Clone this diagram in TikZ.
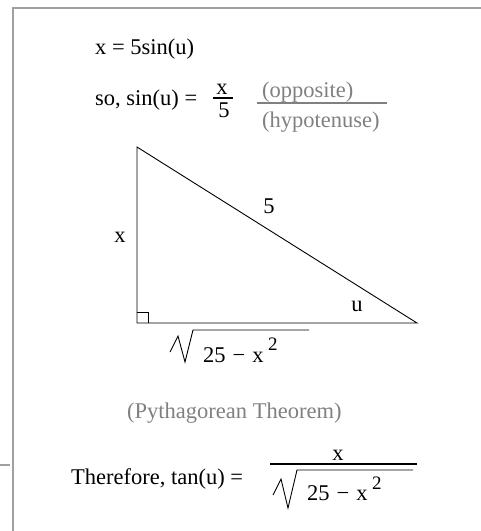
\documentclass[tikz,border=0pt]{standalone}
\usepackage{fontspec}
\setmainfont{Liberation Serif}
\definecolor{notegrey}{RGB}{128,128,128}
\definecolor{framegrey}{RGB}{160,160,160}
\begin{document}
\begin{tikzpicture}[x=1pt,y=-1pt,
		txt/.style={font=\fontsize{22.5}{27}\selectfont,inner sep=0pt,anchor=base west},
		note/.style={txt,text=notegrey},
		frac/.style={txt,anchor=base},
		side/.style={txt,anchor=center},
		expo/.style={font=\fontsize{19}{22}\selectfont,inner sep=0pt,anchor=base west},
		bar/.style={line width=1.1pt},
		radical/.style={line width=0.9pt,line join=miter,miter limit=20}]
		\useasboundingbox (0,0) rectangle (481,531);
		
		% --- Frame ---
		\draw[framegrey,line width=1.5pt] (13,531) -- (13,8) -- (481,8);
		\draw[framegrey,line width=1.2pt] (0,465) -- (10,465);
		
		% --- First equations ---
		\node[txt]  (eq1)  at (95,54)  {x = 5sin(u)};
		\node[txt]  (eq2)  at (95,105) {so, sin(u) =};
		\node[frac] (num1) at (222,94) {x};
		\node[frac] (den1) at (224,117) {5};
		\draw[bar] (213,98) -- (233,98);
		\node[note] (opp)  at (262,97)  {(opposite)};
		\node[note] (hyp)  at (262,127) {(hypotenuse)};
		\draw[bar,notegrey] (257,103) -- (387,103);
		
		% --- Triangle ---
		\coordinate (top)    at (137,147);
		\coordinate (corner) at (137,323);
		\coordinate (tip)    at (417,323);
		\draw[line width=0.9pt] (top) -- (corner) -- (tip) -- cycle;
		\draw[line width=0.8pt] (137,312) -| (148,323);
		\node[side] (opside) at (120,237) {x};
		\node[side] (hypot)  at (269,206) {5};
		\node[side] (angle)  at (357,306) {u};
		
		% --- Adjacent side ---
		\draw[radical] (170,352) -- (178,336) -- (185,362) -- (193,330) -- (309,330);
		\node[txt]  (rad1) at (203,362) {25\hspace{7pt}−\hspace{7pt}x};
		\node[expo] (sq1)  at (268,350) {2};
		\node[note] (pyth) at (127,418) {(Pythagorean Theorem)};
		
		% --- Result ---
		\node[txt]  (eq3)  at (71,484) {Therefore, tan(u) =};
		\node[frac] (num2) at (338,460) {x};
		\draw[bar] (270,464) -- (417,464);
		\draw[radical] (273,495) -- (281,479) -- (288,508) -- (297,470) -- (413,470);
		\node[txt]  (rad2) at (307,500) {25\hspace{7pt}−\hspace{7pt}x};
		\node[expo] (sq2)  at (372,489) {2};
	\end{tikzpicture}
\end{document}
